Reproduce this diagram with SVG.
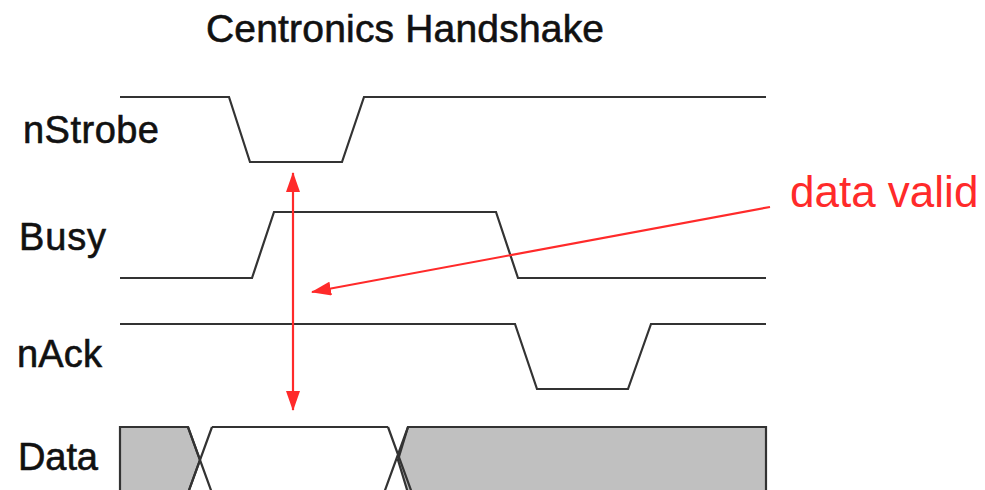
<svg xmlns="http://www.w3.org/2000/svg" width="985" height="490" viewBox="0 0 985 490">
<defs>
<style>
.lbl{font-family:"Liberation Sans",Arial,sans-serif;font-size:38px;fill:#111;stroke:#111;stroke-width:0.6}
.wave{fill:none;stroke:#333;stroke-width:2.2;stroke-linejoin:miter}
.bus{fill:#c0c0c0;stroke:#333;stroke-width:2.2}
.red{stroke:#ff2a2a;stroke-width:2.2;fill:none}
</style>
<marker id="ah" viewBox="0 0 20 14" refX="19" refY="7" markerWidth="20" markerHeight="14" markerUnits="userSpaceOnUse" orient="auto-start-reverse">
<path d="M0,0 L20,7 L0,14 Z" fill="#ff2a2a"/>
</marker>
</defs>
<rect width="985" height="490" fill="#fff"/>
<text id="title" x="206" y="42" textLength="398" style="font-family:'Liberation Sans',Arial,sans-serif;font-size:39px;fill:#111;stroke:#111;stroke-width:0.6">Centronics Handshake</text>

<g id="nStrobe">
<text class="lbl" x="23" y="143" textLength="136">nStrobe</text>
<polyline class="wave" points="120,97 229,97 250,162 342,162 364,97 766,97"/>
</g>
<g id="Busy">
<text class="lbl" x="19" y="250" textLength="87">Busy</text>
<polyline class="wave" points="120,278 252,278 274,212 496,212 518,278 766,278"/>
</g>
<g id="nAck">
<text class="lbl" x="17" y="367" textLength="85">nAck</text>
<polyline class="wave" points="120,324 515,324 537,389 628,389 651,324 766,324"/>
</g>
<g id="Data">
<text class="lbl" x="18" y="470" textLength="80">Data</text>
<path class="bus" d="M120,500 L120,427 L188,427 L200,460 L188,493 L188,500 Z"/>
<path class="bus" d="M766,500 L766,427 L408,427 L398,460 L408,493 L408,500 Z"/>
<path class="wave" d="M212,427 L388,427"/>
<path class="wave" d="M188,427 L212,493 M212,427 L188,493 M388,427 L412,493 M408,427 L384,493"/>
</g>

<g id="connectors">
<line class="red" x1="293" y1="173" x2="293" y2="410" marker-start="url(#ah)" marker-end="url(#ah)"/>
<line class="red" x1="770" y1="207" x2="312" y2="292" marker-end="url(#ah)"/>
</g>
<g id="dataValid">
<text x="790" y="207" style="font-family:'Liberation Sans',Arial,sans-serif;font-size:44px;fill:#ff2a2a">data valid</text>
</g>
</svg>
